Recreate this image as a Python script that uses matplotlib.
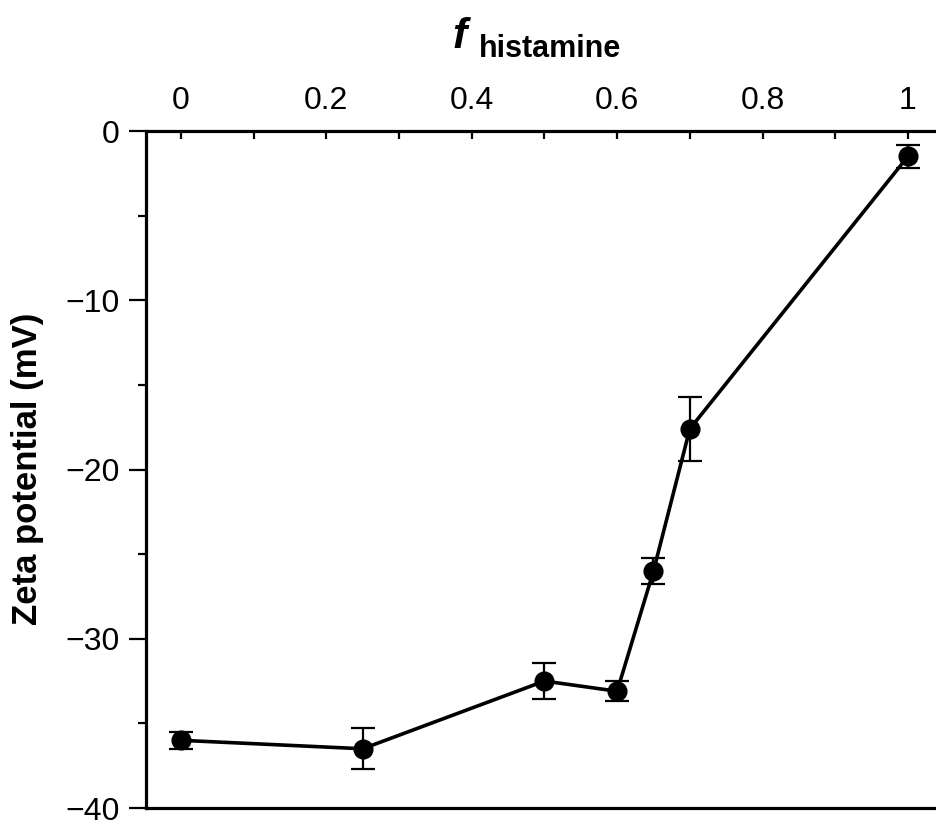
import matplotlib
matplotlib.use("Agg")
import matplotlib.pyplot as plt
from matplotlib.ticker import MultipleLocator, FuncFormatter

plt.rcParams['font.family'] = ['Liberation Sans', 'DejaVu Sans']

# Zeta potential vs. histamine fraction
f_histamine = [0.0, 0.25, 0.5, 0.6, 0.65, 0.7, 1.0]
zeta_mv = [-36.0, -36.5, -32.5, -33.1, -26.0, -17.6, -1.5]
zeta_err = [0.5, 1.2, 1.05, 0.6, 0.75, 1.9, 0.7]

W, H = 937, 821
fig = plt.figure(figsize=(W / 100, H / 100), dpi=100)
ax = fig.add_axes([146 / W, 13 / H, 1 - 146 / W, (808 - 131) / H])

ax.errorbar(f_histamine, zeta_mv, yerr=zeta_err, color='black',
            linewidth=2.6, marker='o', markersize=13.5,
            ecolor='black', elinewidth=1.6, capsize=8.5, capthick=1.6,
            clip_on=False, zorder=3)

ax.set_xlim(-0.048, 1.04)
ax.set_ylim(-40, 0)

for side in ('left', 'top', 'bottom'):
    ax.spines[side].set_linewidth(2.3)
ax.spines['right'].set_visible(False)

ax.xaxis.tick_top()
ax.xaxis.set_major_locator(MultipleLocator(0.2))
ax.xaxis.set_minor_locator(MultipleLocator(0.1))
ax.xaxis.set_major_formatter(FuncFormatter(lambda v, p: f"{v:g}"))
ax.tick_params(axis='x', which='both', direction='in', length=6, width=1.6,
               top=True, bottom=False, labeltop=True, labelbottom=False,
               labelsize=23, pad=11)

ax.yaxis.set_major_locator(MultipleLocator(10))
ax.yaxis.set_minor_locator(MultipleLocator(5))
ax.tick_params(axis='y', which='major', direction='out', length=12, width=1.6,
               labelsize=23, pad=7)
ax.tick_params(axis='y', which='minor', direction='out', length=6, width=1.6)

# Vertical axis title
fig.text(28 / W, 1 - 469 / H, 'Zeta potential (mV)', fontsize=25,
         fontweight='bold', rotation=90, ha='center', va='center')

# Axis title on the top: italic f with a lowered subscript word
fig.text(452 / W, 1 - 48 / H, 'f', fontsize=31, fontweight='bold',
         fontstyle='italic', ha='left', va='baseline')
fig.text(479 / W, 1 - 57 / H, 'histamine', fontsize=22, fontweight='bold',
         ha='left', va='baseline')

fig.savefig('out.png', dpi=100)
